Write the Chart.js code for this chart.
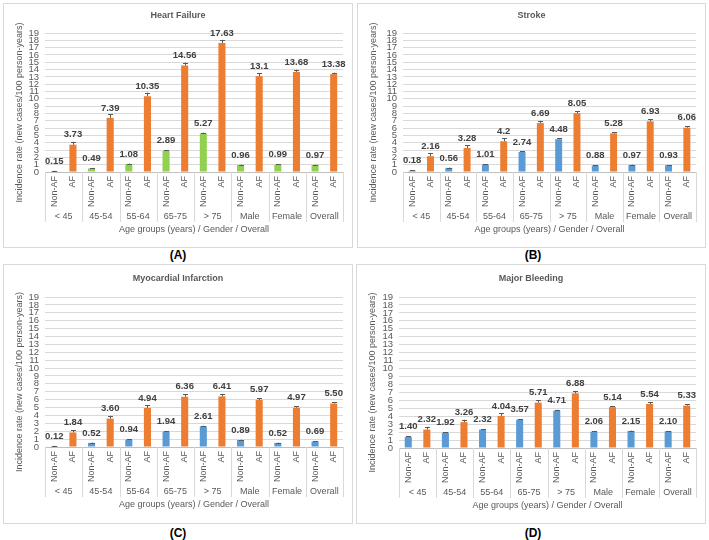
<!DOCTYPE html>
<html>
<head>
<meta charset="utf-8">
<script src="https://cdn.jsdelivr.net/npm/chart.js@4.4.0/dist/chart.umd.min.js"></script>
<style>
  html, body { margin:0; padding:0; background:#ffffff; }
  body { width:709px; height:540px; position:relative; overflow:hidden; font-family:'Liberation Sans', Arial, sans-serif; }
  .box { position:absolute; border:1px solid #d9d9d9; box-sizing:border-box; background:#fff; }
  .box canvas { position:absolute; left:0; top:0; }
  .plab { position:absolute; font-weight:bold; font-size:12px; color:#000; transform:translate(-50%,-50%); white-space:nowrap; }
</style>
</head>
<body>
<div class="box" id="boxA" style="left:3px;top:3px;width:350px;height:245px;"><canvas id="cA" width="348" height="243"></canvas></div>
<div class="box" id="boxB" style="left:357px;top:3px;width:349px;height:245px;"><canvas id="cB" width="347" height="243"></canvas></div>
<div class="box" id="boxC" style="left:3px;top:264px;width:350px;height:260px;"><canvas id="cC" width="348" height="258"></canvas></div>
<div class="box" id="boxD" style="left:356px;top:264px;width:350px;height:260px;"><canvas id="cD" width="348" height="258"></canvas></div>
<div class="plab" style="left:178px;top:255px;">(A)</div>
<div class="plab" style="left:533px;top:255px;">(B)</div>
<div class="plab" style="left:178px;top:533px;">(C)</div>
<div class="plab" style="left:533px;top:533px;">(D)</div>
<script>
// ---------- DATA ----------
const groups = ['< 45', '45-54', '55-64', '65-75', '> 75', 'Male', 'Female', 'Overall'];
const subLabels = ['Non-AF', 'AF'];
const yTicks = [0, 19];

const hfNonAF = [0.15, 0.49, 1.08, 2.89, 5.27, 0.96, 0.99, 0.97];
const hfAF = [3.73, 7.39, 10.35, 14.56, 17.63, 13.1, 13.68, 13.38];
const hfNonAFErr = [0.03, 0.05, 0.08, 0.08, 0.10, 0.05, 0.05, 0.03];
const hfAFErr = [0.40, 0.50, 0.50, 0.40, 0.40, 0.40, 0.30, 0.20];

const strokeNonAF = [0.18, 0.56, 1.01, 2.74, 4.48, 0.88, 0.97, 0.93];
const strokeAF = [2.16, 3.28, 4.2, 6.69, 8.05, 5.28, 6.93, 6.06];
const strokeNonAFErr = [0.03, 0.05, 0.07, 0.07, 0.10, 0.04, 0.04, 0.03];
const strokeAFErr = [0.40, 0.35, 0.40, 0.30, 0.30, 0.20, 0.25, 0.20];

const miNonAF = [0.12, 0.52, 0.94, 1.94, 2.61, 0.89, 0.52, 0.69];
const miAF = [1.84, 3.60, 4.94, 6.36, 6.41, 5.97, 4.97, 5.50];
const miNonAFErr = [0.03, 0.05, 0.06, 0.06, 0.08, 0.04, 0.04, 0.03];
const miAFErr = [0.30, 0.35, 0.35, 0.30, 0.30, 0.20, 0.20, 0.15];

const mbNonAF = [1.40, 1.92, 2.32, 3.57, 4.71, 2.06, 2.15, 2.10];
const mbAF = [2.32, 3.26, 4.04, 5.71, 6.88, 5.14, 5.54, 5.33];
const mbNonAFErr = [0.08, 0.07, 0.08, 0.08, 0.10, 0.05, 0.05, 0.04];
const mbAFErr = [0.35, 0.30, 0.35, 0.30, 0.30, 0.15, 0.20, 0.15];

const titles = ['Heart Failure', 'Stroke', 'Myocardial Infarction', 'Major Bleeding'];
const xTitle = 'Age groups (years) / Gender / Overall';
const yTitle = 'Incidence rate (new cases/100 person-years)';

// ---------- STYLE ----------
const FONT = "'Liberation Sans', Arial, sans-serif";
const GRAY = '#595959';
const ORANGE = '#ED7D31';
const GREEN = '#92D050';
const BLUE = '#5B9BD5';

const panelPlugin = {
  id: 'panel',
  afterDatasetsDraw(chart, args, o) {
    const ctx = chart.ctx;
    const a = chart.chartArea;
    const x = chart.scales.x, y = chart.scales.y;
    const base = y.getPixelForValue(0);
    ctx.save();
    // axis line
    ctx.strokeStyle = '#bfbfbf'; ctx.lineWidth = 1;
    ctx.beginPath(); ctx.moveTo(a.left, Math.round(base) + 0.5); ctx.lineTo(a.right, Math.round(base) + 0.5); ctx.stroke();
    // error bars + data labels
    chart.data.datasets.forEach((ds, di) => {
      const meta = chart.getDatasetMeta(di);
      meta.data.forEach((bar, i) => {
        const v = ds.data[i];
        const topPx = y.getPixelForValue(v + ds.err[i]);
        const bx = Math.round(bar.x) + 0.5;
        ctx.strokeStyle = '#595959'; ctx.lineWidth = 1;
        ctx.beginPath();
        ctx.moveTo(bx, bar.y); ctx.lineTo(bx, topPx);
        ctx.moveTo(bx - 2.5, Math.round(topPx) + 0.5); ctx.lineTo(bx + 2.5, Math.round(topPx) + 0.5);
        ctx.stroke();
        ctx.fillStyle = '#404040';
        ctx.font = 'bold 9.5px ' + FONT;
        ctx.textAlign = 'center'; ctx.textBaseline = 'middle';
        ctx.fillText(o.fmt(v), bar.x, bar.y - 10);
        // rotated sub-label
        ctx.save();
        ctx.translate(bar.x, base + 4);
        ctx.rotate(-Math.PI / 2);
        ctx.fillStyle = GRAY; ctx.font = '9px ' + FONT;
        ctx.textAlign = 'right'; ctx.textBaseline = 'middle';
        ctx.fillText(subLabels[di], 0, 0);
        ctx.restore();
      });
    });
    // group dividers and labels
    const half = (x.getPixelForValue(1) - x.getPixelForValue(0)) / 2;
    ctx.strokeStyle = '#d9d9d9'; ctx.lineWidth = 1;
    for (let i = 0; i <= groups.length; i++) {
      const px = Math.round(x.getPixelForValue(i) - half) + 0.5;
      ctx.beginPath(); ctx.moveTo(px, base); ctx.lineTo(px, base + 50); ctx.stroke();
    }
    ctx.fillStyle = GRAY; ctx.font = '9px ' + FONT;
    ctx.textAlign = 'center'; ctx.textBaseline = 'middle';
    groups.forEach((g, i) => ctx.fillText(g, x.getPixelForValue(i), base + 45));
    // x title
    ctx.fillText(xTitle, (a.left + a.right) / 2, base + 58);
    // chart title
    ctx.font = '600 9px ' + FONT;
    ctx.fillText(o.title, chart.width / 2, o.titleY);
    // y title
    ctx.save();
    ctx.translate(o.yTitleX, (a.top + a.bottom) / 2 + 10);
    ctx.rotate(-Math.PI / 2);
    ctx.font = '9px ' + FONT; ctx.fillStyle = GRAY;
    ctx.fillText(yTitle, 0, 0);
    ctx.restore();
    ctx.restore();
  }
};

function makeChart(id, title, nonAF, af, nonErr, afErr, nonColor, fmt, L, T, R, B, titleY) {
  return new Chart(document.getElementById(id), {
    type: 'bar',
    data: {
      labels: groups,
      datasets: [
        { label: subLabels[0], data: nonAF, err: nonErr, backgroundColor: nonColor },
        { label: subLabels[1], data: af, err: afErr, backgroundColor: ORANGE }
      ]
    },
    options: {
      responsive: false, animation: false, devicePixelRatio: 1,
      layout: { padding: { left: 0, top: T, right: R, bottom: B } },
      datasets: { bar: { categoryPercentage: 1, barPercentage: 0.38 } },
      plugins: {
        legend: { display: false }, tooltip: { enabled: false },
        panel: { title: title, fmt: fmt, titleY: titleY, yTitleX: 16 }
      },
      scales: {
        x: {
          ticks: { display: false }, grid: { display: false }, border: { display: false },
          afterFit(s) { s.height = 0; }
        },
        y: {
          min: yTicks[0], max: yTicks[1],
          ticks: { stepSize: 1, autoSkip: false, color: GRAY, font: { family: FONT, size: 9.5 }, padding: 6 },
          grid: { color: '#d9d9d9', drawTicks: false },
          border: { display: false },
          afterFit(s) { s.width = L; }
        }
      }
    },
    plugins: [panelPlugin]
  });
}

const fmtPlain = v => String(v);
const fmt2 = v => v.toFixed(2);

makeChart('cA', titles[0], hfNonAF, hfAF, hfNonAFErr, hfAFErr, GREEN, fmtPlain, 41, 29, 9, 75, 12);
makeChart('cB', titles[1], strokeNonAF, strokeAF, strokeNonAFErr, strokeAFErr, BLUE, fmtPlain, 45, 29, 9, 75, 12);
makeChart('cC', titles[2], miNonAF, miAF, miNonAFErr, miAFErr, BLUE, fmt2, 41, 32, 9, 76, 14);
makeChart('cD', titles[3], mbNonAF, mbAF, mbNonAFErr, mbAFErr, BLUE, fmt2, 42, 32, 9, 75, 14);
</script>
</body>
</html>
